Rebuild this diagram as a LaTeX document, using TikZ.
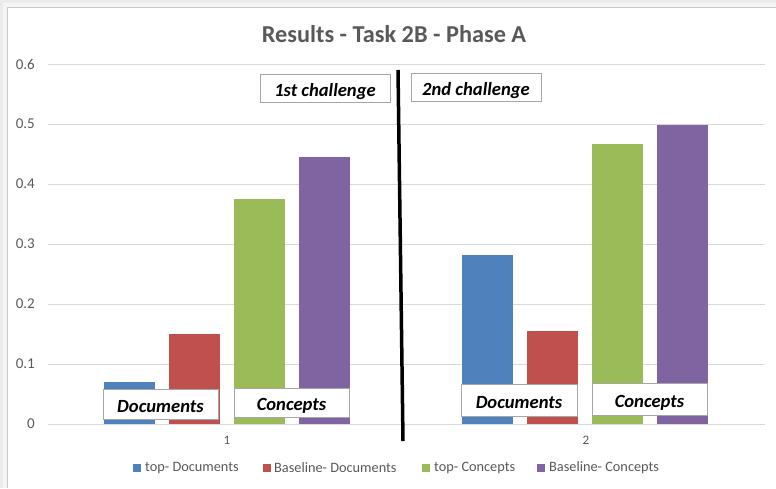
\documentclass[tikz,border=0pt]{standalone}
\usepackage{fontspec}
\setmainfont{Carlito}
\definecolor{cblue}{HTML}{4F81BD}
\definecolor{cred}{HTML}{C0504D}
\definecolor{cgreen}{HTML}{9BBB59}
\definecolor{cpurple}{HTML}{8064A2}
\definecolor{ctext}{HTML}{595959}
\definecolor{cgrid}{HTML}{D9D9D9}
\tikzset{
  labelbox/.style={draw=black!35, line width=0.9pt, fill=white, inner sep=0pt,
    text height=16pt, text depth=0pt,
    font=\fontsize{18.6}{21}\selectfont\bfseries\itshape, text=black},
  ticklab/.style={font=\fontsize{15}{17}\selectfont, text=ctext, anchor=east, inner sep=0pt},
  catlab/.style={font=\fontsize{13}{15}\selectfont, text=ctext, inner sep=0pt},
  legtext/.style={font=\fontsize{14.3}{16}\selectfont, text=ctext, anchor=west, inner sep=0pt},
}
\begin{document}
\begin{tikzpicture}[x=1pt,y=-1pt]
\useasboundingbox (0,0) rectangle (776,488);
% frame / shadow
\fill[black!8] (0,0) rectangle (776,488);
\fill[black!4] (3,3) rectangle (776,488);
\fill[white] (7,7) rectangle (776,488);
\draw[black!22, line width=0.8pt] (7,488) -- (7,7) -- (776,7);
% title
\node[font=\fontsize{24.3}{28}\selectfont\bfseries, text=ctext, inner sep=0pt] (title) at (394,34) {Results - Task 2B - Phase A};
% grid
\foreach \v/\y in {0/424,0.1/364,0.2/304,0.3/244,0.4/184,0.5/124,0.6/64} {
  \draw[cgrid, line width=0.8pt] (48,\y) -- (765,\y);
  \node[ticklab] at (35,\y) {\v};
}
% bars group 1
\fill[cblue]   (104,382) rectangle (155,424);
\fill[cred]    (169,334) rectangle (220,424);
\fill[cgreen]  (234,199) rectangle (285,424);
\fill[cpurple] (299,157) rectangle (350,424);
% bars group 2
\fill[cblue]   (462,255) rectangle (513,424);
\fill[cred]    (527,331) rectangle (578,424);
\fill[cgreen]  (592,144) rectangle (643,424);
\fill[cpurple] (657,125) rectangle (708,424);
% category labels
\node[catlab] (c1) at (227,440) {1};
\node[catlab] (c2) at (586,440) {2};
% divider
\draw[black, line width=3.5pt] (398,70) -- (403,441);
% label boxes
\node[labelbox, minimum width=115pt, minimum height=30pt] (d1) at (160.5,404) {Documents};
\node[labelbox, minimum width=115pt, minimum height=29pt] (k1) at (291.5,402.5) {Concepts};
\node[labelbox, minimum width=116pt, minimum height=32pt] (d2) at (519,400) {Documents};
\node[labelbox, minimum width=115pt, minimum height=32pt] (k2) at (649.5,399) {Concepts};
\node[labelbox, minimum width=130pt, minimum height=28pt] (ch1) at (325,88) {1st challenge};
\node[labelbox, minimum width=130pt, minimum height=28pt] (ch2) at (476,87) {2nd challenge};
% legend
\fill[cblue]   (133,464) rectangle (141,472);
\node[legtext] (l1) at (145,468) {top- Documents};
\fill[cred]    (263,464) rectangle (271,472);
\node[legtext] (l2) at (274,468) {Baseline- Documents};
\fill[cgreen]  (422,464) rectangle (430,472);
\node[legtext] (l3) at (434,468) {top- Concepts};
\fill[cpurple] (537,464) rectangle (545,472);
\node[legtext] (l4) at (549,468) {Baseline- Concepts};
\end{tikzpicture}
\end{document}
